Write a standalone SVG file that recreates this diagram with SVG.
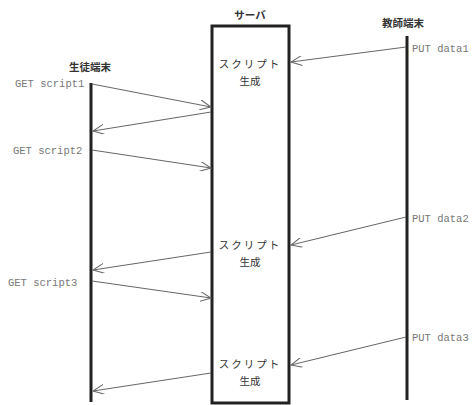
<svg xmlns="http://www.w3.org/2000/svg" width="474" height="405" viewBox="0 0 474 405">
<style>
.lbl{font-family:"Liberation Mono",monospace;font-size:10.5px;fill:#777}
.jp{font-family:"Noto Sans CJK JP",sans-serif;font-size:10.5px;fill:#333;text-anchor:middle}
.hd{font-family:"Noto Sans CJK JP",sans-serif;font-size:10.5px;font-weight:bold;fill:#333;text-anchor:middle}
.msg{stroke:#666;stroke-width:1;fill:none;marker-end:url(#ah)}
.life{stroke:#222;stroke-width:3}
</style>
<defs>
<marker id="ah" viewBox="0 0 12 10" refX="11" refY="5" markerWidth="12" markerHeight="10" markerUnits="userSpaceOnUse" orient="auto">
<path d="M0,0 L11,5 L0,10" fill="none" stroke="#666" stroke-width="1"/>
</marker>
</defs>
<rect width="474" height="405" fill="#fff"/>
<g id="server">
<rect x="212" y="26" width="77" height="377" fill="none" stroke="#222" stroke-width="3"/>
<text class="hd" x="250" y="19">サーバ</text>
<text class="jp" x="250" y="68" letter-spacing="2">スクリプト</text>
<text class="jp" x="250" y="85">生成</text>
<text class="jp" x="250" y="249" letter-spacing="2">スクリプト</text>
<text class="jp" x="250" y="266">生成</text>
<text class="jp" x="250" y="368" letter-spacing="2">スクリプト</text>
<text class="jp" x="250" y="385">生成</text>
</g>
<g id="student">
<line class="life" x1="91" y1="83" x2="91" y2="402"/>
<text class="hd" x="90" y="71">生徒端末</text>
<text class="lbl" x="15" y="87">GET script1</text>
<text class="lbl" x="13" y="154">GET script2</text>
<text class="lbl" x="8" y="286">GET script3</text>
</g>
<g id="teacher">
<line class="life" x1="407" y1="36" x2="407" y2="400"/>
<text class="hd" x="403" y="27">教師端末</text>
<text class="lbl" x="412" y="52">PUT data1</text>
<text class="lbl" x="412" y="222">PUT data2</text>
<text class="lbl" x="412" y="341">PUT data3</text>
</g>
<g id="connectors">
<line class="msg" x1="92" y1="84" x2="211" y2="107"/>
<line class="msg" x1="211" y1="112" x2="93" y2="131"/>
<line class="msg" x1="92" y1="150" x2="211" y2="168"/>
<line class="msg" x1="211" y1="252" x2="93" y2="270"/>
<line class="msg" x1="92" y1="281" x2="211" y2="298"/>
<line class="msg" x1="211" y1="373" x2="93" y2="391"/>
<line class="msg" x1="406" y1="47" x2="291" y2="62"/>
<line class="msg" x1="406" y1="217" x2="291" y2="245"/>
<line class="msg" x1="406" y1="337" x2="291" y2="365"/>
</g>
</svg>
